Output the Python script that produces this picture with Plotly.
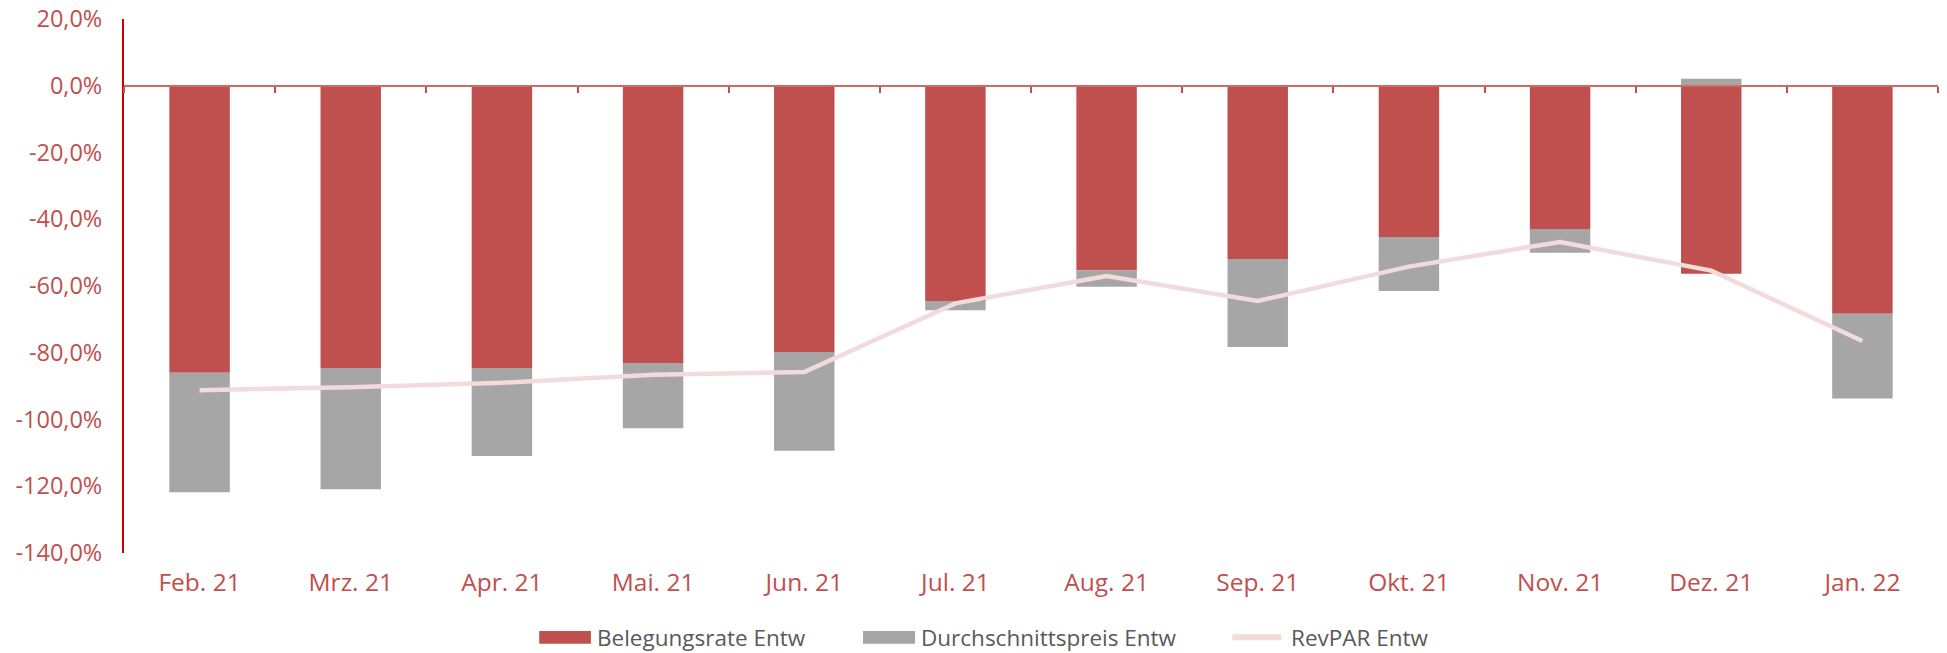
import plotly.graph_objects as go

months = ["Feb. 21", "Mrz. 21", "Apr. 21", "Mai. 21", "Jun. 21", "Jul. 21",
          "Aug. 21", "Sep. 21", "Okt. 21", "Nov. 21", "Dez. 21", "Jan. 22"]
belegungsrate = [-86.0, -84.6, -84.6, -83.1, -79.8, -64.5, -55.3, -51.9, -45.3, -42.9, -56.3, -68.3]
durchschnittspreis = [-35.8, -36.3, -26.3, -19.5, -29.6, -2.8, -4.9, -26.4, -16.2, -7.1, 2.1, -25.4]
revpar = [-91.2, -90.3, -89.0, -86.6, -85.8, -65.2, -57.0, -64.5, -54.2, -46.8, -55.4, -76.5]

tick_vals = [20, 0, -20, -40, -60, -80, -100, -120, -140]
tick_text = ["20,0%", "0,0%", "-20,0%", "-40,0%", "-60,0%", "-80,0%", "-100,0%", "-120,0%", "-140,0%"]

series_names = ["Belegungsrate Entw", "Durchschnittspreis Entw", "RevPAR Entw"]

RED = "#c0504d"
GRAY = "#a6a6a6"
PINK = "#f2dcdb"
FONT = "Open Sans"
LEGEND_TEXT = "#595959"

fig = go.Figure()
fig.add_trace(go.Bar(x=months, y=belegungsrate, name=series_names[0],
                     marker=dict(color=RED, line=dict(width=0))))
fig.add_trace(go.Bar(x=months, y=durchschnittspreis, name=series_names[1],
                     marker=dict(color=GRAY, line=dict(width=0))))
fig.add_trace(go.Scatter(x=months, y=revpar, name=series_names[2], mode="lines",
                         xaxis="x2",
                         line=dict(color=PINK, width=4.5)))

# custom legend (paper coordinates)
leg_y0, leg_y1, leg_ym = -0.170, -0.146, -0.158
shapes = [
    dict(type="rect", xref="paper", yref="paper", x0=0.2289, x1=0.2574, y0=leg_y0, y1=leg_y1,
         fillcolor=RED, line=dict(width=0)),
    dict(type="rect", xref="paper", yref="paper", x0=0.4074, x1=0.4361, y0=leg_y0, y1=leg_y1,
         fillcolor=GRAY, line=dict(width=0)),
    dict(type="line", xref="paper", yref="paper", x0=0.6110, x1=0.6380, y0=leg_ym, y1=leg_ym,
         line=dict(color=PINK, width=6)),
]
annotations = [
    dict(text=series_names[0], xref="paper", yref="paper", x=0.2598, y=leg_ym,
         xanchor="left", yanchor="middle", showarrow=False,
         font=dict(family=FONT, size=22.5, color=LEGEND_TEXT)),
    dict(text=series_names[1], xref="paper", yref="paper", x=0.4383, y=leg_ym,
         xanchor="left", yanchor="middle", showarrow=False,
         font=dict(family=FONT, size=22.5, color=LEGEND_TEXT)),
    dict(text=series_names[2], xref="paper", yref="paper", x=0.6420, y=leg_ym,
         xanchor="left", yanchor="middle", showarrow=False,
         font=dict(family=FONT, size=22.5, color=LEGEND_TEXT)),
]

fig.update_layout(
    width=1947, height=653,
    barmode="relative",
    bargap=0.6,
    plot_bgcolor="white",
    paper_bgcolor="white",
    margin=dict(l=124, r=9, t=19, b=100, autoexpand=False),
    font=dict(family=FONT, color=RED),
    showlegend=False,
    shapes=shapes,
    annotations=annotations,
    xaxis=dict(
        type="category",
        categoryorder="array", categoryarray=months,
        range=[-0.5, 11.5],
        showline=False, showgrid=False, zeroline=False,
        ticks="",
        ticklabelstandoff=12,
        tickfont=dict(family=FONT, size=24.5, color=RED),
    ),
    xaxis2=dict(
        type="category",
        categoryorder="array", categoryarray=months,
        range=[-0.5, 11.5],
        overlaying="x",
        anchor="free",
        position=0.875,
        side="bottom",
        showline=True, linecolor="#d06a66", linewidth=2,
        showgrid=False, zeroline=False,
        ticks="outside", tickson="boundaries", ticklen=6, tickwidth=1.5,
        tickcolor=RED,
        showticklabels=False,
    ),
    yaxis=dict(
        range=[-140, 20],
        tickvals=tick_vals, ticktext=tick_text,
        showgrid=False, zeroline=False,
        showline=True, linecolor="#cc0000", linewidth=2,
        ticks="",
        ticklabelstandoff=15,
        ticklabeloverflow="allow",
        tickfont=dict(family=FONT, size=23.5, color=RED),
    ),
)

fig.write_html(
    "out.html",
    config={"displayModeBar": False},
    post_script="document.body.style.margin='0';document.body.style.overflow='hidden';",
)
